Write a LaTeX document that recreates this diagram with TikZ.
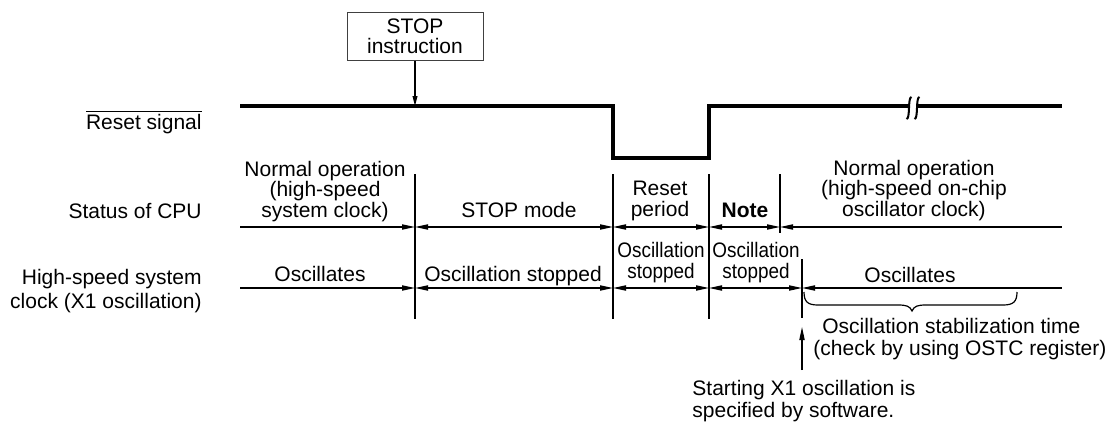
\documentclass[tikz,border=0pt]{standalone}
\usepackage{fontspec}
\setmainfont{Liberation Sans}
\usetikzlibrary{arrows.meta}
\newcommand\squeezed[1]{\scalebox{0.9}[1]{#1}}

\begin{document}
\begin{tikzpicture}[
    x=0.5pt, y=-0.5pt,
    font=\fontsize{10.5}{10.25}\selectfont,
    >={Triangle[length=6.5pt, width=2.6pt]},
    txt/.style={inner sep=0pt, align=center, anchor=base},
    lab/.style={inner sep=0pt, align=right, anchor=base east,
                font=\fontsize{10.5}{12}\selectfont},
    rem/.style={inner sep=0pt, align=left, anchor=base west,
                font=\fontsize{10.5}{11}\selectfont},
    box/.style={draw=black!75, line width=0.5pt, align=center,
                minimum width=68pt, minimum height=24pt, inner sep=0pt,
                font=\fontsize{10.5}{10}\selectfont},
    sig/.style={line width=1.6pt, line join=miter},
    div/.style={line width=0.6pt},
    rng/.style={div, <->},
    rngr/.style={div, ->},
    rngl/.style={div, <-},
  ]
  \useasboundingbox (0,0) rectangle (1119,423);

  \def\xa{240} \def\xb{415} \def\xc{613} \def\xd{709}
  \def\xe{780} \def\xf{802} \def\xg{1062}
  \def\ycpu{227} \def\yclk{288}

  % -- Row labels (base = last line)
  \node[lab] (lrst) at (202,129) {$\overline{\mbox{Reset signal}}$};
  \node[lab] (lcpu) at (202,218) {Status of CPU};
  \node[lab] (lclk) at (202,308) {High-speed system\\clock (X1 oscillation)};

  % -- STOP instruction
  \node[box] (stop) at (\xb,36) {STOP\\instruction};
  \coordinate (hit) at (\xb,106);
  \draw[div, ->, >={Triangle[length=5pt, width=2.4pt]}] (stop) -- (hit);

  % -- Reset signal waveform
  \draw[sig] (\xa,106) -- (\xc,106) -- (\xc,158) -- (\xd,158)
    -- (\xd,106) -- (909,106);
  \draw[sig] (917,106) -- (\xg,106);
  \foreach \x in {909,917}
    \draw[line width=1pt] (\x+2.5,97) .. controls (\x-1.5,97) and (\x+1.5,119) .. (\x-2.5,119);

  % -- Dividers
  \foreach \x in {\xb,\xc,\xd}
    \draw[div] (\x,174) -- (\x,319);
  \draw[div] (\xe,174) -- (\xe,233);
  \draw[div] (\xf,259) -- (\xf,318);

  % -- Status of CPU
  \coordinate (c0) at (\xa,\ycpu);
  \coordinate (c1) at (\xb,\ycpu);
  \coordinate (c2) at (\xc,\ycpu);
  \coordinate (c3) at (\xd,\ycpu);
  \coordinate (c4) at (\xe,\ycpu);
  \coordinate (c5) at (\xg,\ycpu);
  \draw[rngr] (c0) -- (c1);
  \draw[rng] (c1) -- (c2);
  \draw[rng] (c2) -- (c3);
  \draw[rng] (c3) -- (c4);
  \draw[rngl] (c4) -- (c5);

  \node[txt] (norm1) at (325,217) {Normal operation\\(high-speed\\system clock)};
  \node[txt] (stopm) at (519,217) {STOP mode};
  \node[txt] (rper) at (660,216) {Reset\\period};
  \node[txt, font=\fontsize{10.5}{10.25}\selectfont\bfseries] (note) at (745,217) {Note};
  \node[txt] (norm2) at (914,216) {Normal operation\\(high-speed on-chip\\oscillator clock)};

  % -- High-speed system clock
  \coordinate (k0) at (\xa,\yclk);
  \coordinate (k1) at (\xb,\yclk);
  \coordinate (k2) at (\xc,\yclk);
  \coordinate (k3) at (\xd,\yclk);
  \coordinate (k4) at (\xf,\yclk);
  \coordinate (k5) at (\xg,\yclk);
  \draw[rngr] (k0) -- (k1);
  \draw[rng] (k1) -- (k2);
  \draw[rng] (k2) -- (k3);
  \draw[rng] (k3) -- (k4);
  \draw[rngl] (k4) -- (k5);

  \node[txt] (osc1) at (320,281) {Oscillates};
  \node[txt] (stp1) at (513,281) {Oscillation stopped};
  \node[txt] (stp2) at (661,278) {\squeezed{Oscillation}\\\squeezed{stopped}};
  \node[txt] (stp3) at (756,278) {\squeezed{Oscillation}\\\squeezed{stopped}};
  \node[txt] (osc2) at (910,282) {Oscillates};

  % -- Stabilization brace
  \draw[div] (804,292) .. controls (804,302) and (808,305) .. (818,305)
    -- (898,305) .. controls (906,305) and (910,306) .. (912,311)
    .. controls (914,306) and (918,305) .. (926,305)
    -- (1003,305) .. controls (1013,305) and (1017,302) .. (1017,292);
  \node[rem] (stab) at (813,355)
    {\hspace*{4.5pt}Oscillation stabilization time\\(check by using OSTC register)};

  % -- Start of X1 oscillation
  \coordinate (swon) at (\xf,370);
  \coordinate (swtip) at (\xf,327);
  \draw[rngr] (swon) -- (swtip);
  \node[rem] (swnote) at (692,417)
    {Starting X1 oscillation is\\specified by software.};

\end{tikzpicture}
\end{document}
